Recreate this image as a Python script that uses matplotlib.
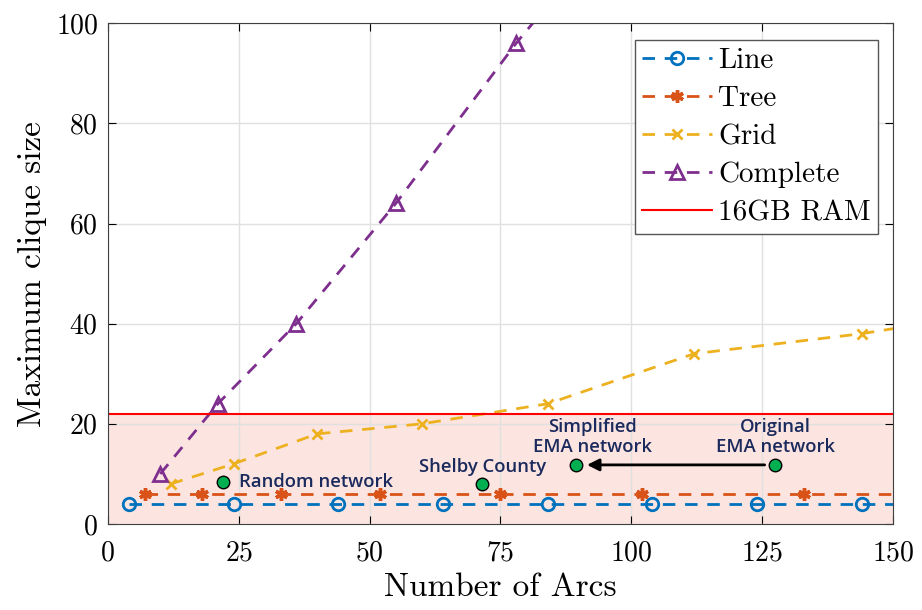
import matplotlib.pyplot as plt

plt.rcParams['font.family'] = ['cmr10', 'DejaVu Serif']
plt.rcParams['mathtext.fontset'] = 'cm'
plt.rcParams['axes.unicode_minus'] = False
plt.rcParams['axes.formatter.use_mathtext'] = True

# series data: number of arcs vs maximum clique size
line_x = [4, 24, 44, 64, 84, 104, 124, 144, 164]
line_y = [4, 4, 4, 4, 4, 4, 4, 4, 4]
tree_x = [7, 18, 33, 52, 75, 102, 133, 168]
tree_y = [6, 6, 6, 6, 6, 6, 6, 6]
grid_x = [12, 24, 40, 60, 84, 112, 144, 180]
grid_y = [8, 12, 18, 20, 24, 34, 38, 44]
comp_x = [10, 21, 36, 55, 78, 105]
comp_y = [10, 24, 40, 64, 96, 130]
ram_limit = 22

# real networks
net_names = ['Random network', 'Shelby County', 'Simplified\nEMA network', 'Original\nEMA network']
net_x = [22, 71.5, 89.5, 127.5]
net_y = [8.3, 8, 11.8, 11.8]

fig = plt.figure(figsize=(9.22, 6.10), dpi=100)
ax = fig.add_axes([0.117, 0.141, 0.8516, 0.821])

dash = (0, (4.5, 3.5))
ax.axhspan(0, ram_limit, color='#fce4e1', zorder=0)
ax.plot(line_x, line_y, ls=dash, marker='o', color='#0072BD', mfc='none', ms=9, mew=2, lw=2, label='Line')
ax.plot(tree_x, tree_y, ls=dash, marker=(6, 2, 0), color='#D95319', ms=9, mew=2.5, lw=2, label='Tree')
ax.plot(grid_x, grid_y, ls=dash, marker='x', color='#EDB120', ms=7, mew=2, lw=2, label='Grid')
ax.plot(comp_x, comp_y, ls=dash, marker='^', color='#7E2F8E', mfc='none', ms=10, mew=2, lw=2, label='Complete')
ax.axhline(ram_limit, color='#ff0000', lw=1.5, label='16GB RAM')

ax.plot(net_x, net_y, 'o', color='#00B050', mec='black', ms=9, mew=1, zorder=5)
ax.annotate('', xy=(net_x[2] + 1.5, net_y[2]), xytext=(net_x[3] - 1.5, net_y[3]),
            arrowprops=dict(arrowstyle='-|>', color='black', lw=2, mutation_scale=18), zorder=4)

tfont = dict(family='Open Sans', fontsize=13.3, fontweight='semibold', color='#1B2A5C')
ax.text(net_x[0] + 3, net_y[0], net_names[0], ha='left', va='center', **tfont)
ax.text(net_x[1], net_y[1] + 1.5, net_names[1], ha='center', va='bottom', **tfont)
ax.text(net_x[2] + 3, net_y[2] + 1.8, net_names[2], ha='center', va='bottom', linespacing=1.15, **tfont)
ax.text(net_x[3], net_y[3] + 1.8, net_names[3], ha='center', va='bottom', linespacing=1.15, **tfont)

ax.set_xlim(0, 150)
ax.set_ylim(0, 100)
ax.set_xticks([0, 25, 50, 75, 100, 125, 150])
ax.set_yticks([0, 20, 40, 60, 80, 100])
ax.tick_params(direction='in', labelsize=20, top=True, right=True, length=6)
ax.tick_params(axis='x', pad=12)
ax.tick_params(axis='y', pad=7)
ax.grid(True, color='#e0e0e0', lw=1)
ax.set_axisbelow(True)
for s in ax.spines.values():
    s.set_color('#404040')
ax.set_xlabel('Number of Arcs', fontsize=24, labelpad=4)
ax.set_ylabel('Maximum clique size', fontsize=24, labelpad=6)

leg = ax.legend(loc='upper right', bbox_to_anchor=(0.981, 0.966), fontsize=21, fancybox=False,
                edgecolor='#555555', framealpha=1, handlelength=2.4, borderpad=0.25,
                labelspacing=0.4, handletextpad=0.2, borderaxespad=0)
leg.get_frame().set_linewidth(1)

fig.savefig('out.png', dpi=100)
